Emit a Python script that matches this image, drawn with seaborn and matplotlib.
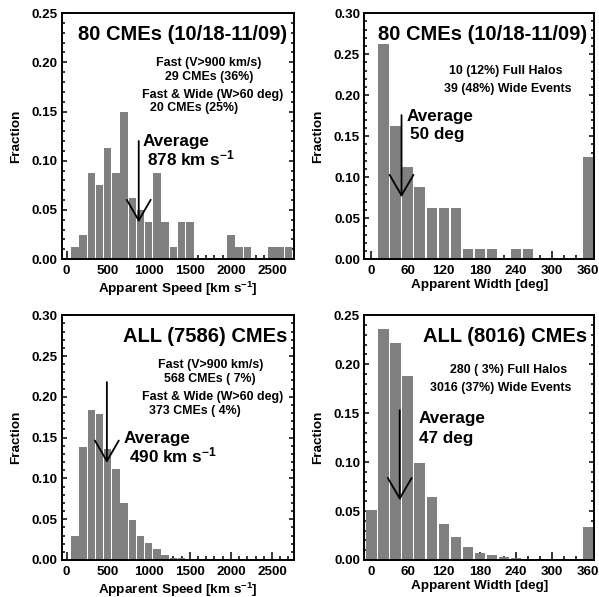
"""
CME speed and width distributions: Halloween 2003 events vs. all CMEs
"""
import matplotlib
matplotlib.use('Agg')
import matplotlib.pyplot as plt
from matplotlib.ticker import MultipleLocator
import pandas as pd
import seaborn as sns

# histogram bins (bin centres)
speed_bins = list(range(0, 2800, 100))
width_bins = list(range(0, 380, 20))

# fraction of events per bin
speed_frac_80 = [0, .0125, .025, .0875, .075, .1125, .0875, .15, .0625, .05,
                 .0375, .0875, .0375, .0125, .0375, .0375, 0, 0, 0, 0,
                 .025, .0125, .0125, 0, 0, .0125, .0125, .0125]
speed_frac_all = [0, .029, .139, .184, .1795, .1365, .1115, .0697, .049, .0295,
                  .0205, .013, .006, .003, .003, .001, .001, .0008, .0008, .0004,
                  .0003, .0002, .0001, .0001, 0, 0, 0, 0]
width_frac_80 = [0, .2625, .1625, .1125, .0875, .0625, .0625, .0625, .0125, .0125,
                 .0125, 0, .0125, .0125, 0, 0, 0, 0, .125]
width_frac_all = [.051, .236, .222, .188, .099, .064, .037, .023, .013, .0075,
                  .005, .003, .002, .0012, .001, 0, 0, 0, .034]

titles = ["80 CMEs (10/18-11/09)", "80 CMEs (10/18-11/09)",
          "ALL (7586) CMEs", "ALL (8016) CMEs"]
stats_text = [
    [("Fast (V>900 km/s)", .631, .799), ("29 CMEs (36%)", .633, .742),
     ("Fast & Wide (W>60 deg)", .651, .667), ("20 CMEs (25%)", .568, .613)],
    [("10 (12%) Full Halos", .616, .765), ("39 (48%) Wide Events", .626, .690)],
    [("Fast (V>900 km/s)", .640, .796), ("568 CMEs ( 7%)", .637, .739),
     ("Fast & Wide (W>60 deg)", .651, .664), ("373 CMEs ( 4%)", .574, .609)],
    [("280 ( 3%) Full Halos", .629, .778), ("3016 (37%) Wide Events", .594, .703)],
]
# average value, arrow tail / tip heights, label lines
averages = [878, 50, 490, 47]
arrow_tail = [.120, .1756, .218, .153]
arrow_tip = [.0375, .0755, .119, .061]
avg_labels = [
    [("Average", 925, .1153), ("878 km s$^{-1}$", 974, .0948)],
    [("Average", 58.3, .1687), ("50 deg", 63.8, .146)],
    [("Average", 698, .1434), ("490 km s$^{-1}$", 759, .1197)],
    [("Average", 78.8, .140), ("47 deg", 78.8, .1197)],
]

sns.set_style('ticks')
plt.rcParams['font.family'] = ['Liberation Sans', 'DejaVu Sans']
plt.rcParams['font.weight'] = 'bold'
plt.rcParams['axes.labelweight'] = 'bold'
plt.rcParams['mathtext.fontset'] = 'custom'
plt.rcParams['mathtext.rm'] = 'Liberation Sans:bold'
plt.rcParams['mathtext.it'] = 'Liberation Sans:bold'
plt.rcParams['mathtext.bf'] = 'Liberation Sans:bold'
plt.rcParams['mathtext.default'] = 'rm'
for key in ['text.color', 'axes.labelcolor', 'xtick.color', 'ytick.color',
            'axes.edgecolor']:
    plt.rcParams[key] = 'black'


def panel(ax, bins, frac, width, i, speed):
    df = pd.DataFrame({'bin': bins, 'frac': frac})
    sns.barplot(data=df, x='bin', y='frac', native_scale=True, orient='x',
                color='#808080', saturation=1, width=width, linewidth=0,
                errorbar=None, ax=ax)
    if speed:
        ax.set_xlim(-60, 2770)
        ax.xaxis.set_major_locator(MultipleLocator(500))
        ax.xaxis.set_minor_locator(MultipleLocator(100))
        ax.set_xlabel("Apparent Speed [km s$^{-1}$]", fontsize=9.7, labelpad=2)
    else:
        ax.set_xlim(-12, 370)
        ax.xaxis.set_major_locator(MultipleLocator(60))
        ax.xaxis.set_minor_locator(MultipleLocator(20))
        ax.set_xlabel("Apparent Width [deg]", fontsize=9.7, labelpad=2)
    ax.yaxis.set_major_locator(MultipleLocator(0.05))
    ax.yaxis.set_minor_locator(MultipleLocator(0.01))
    ax.yaxis.set_major_formatter(matplotlib.ticker.FormatStrFormatter('%.2f'))
    ax.set_ylabel("Fraction", fontsize=9.7, labelpad=7)
    ax.tick_params(axis='both', which='both', direction='in', top=False,
                   right=True, width=1.1, labelsize=9.6)
    ax.tick_params(axis='x', which='major', length=6, pad=4)
    ax.tick_params(axis='x', which='minor', length=3)
    ax.tick_params(axis='y', which='major', length=3.5, pad=3)
    ax.tick_params(axis='y', which='minor', length=2)
    for s in ax.spines.values():
        s.set_linewidth(1.4)
        s.set_visible(True)

    ax.text(0.971, 0.914, titles[i], transform=ax.transAxes, ha='right',
            va='center', fontsize=14.5)
    for txt, x, y in stats_text[i]:
        ax.text(x, y, txt, transform=ax.transAxes, ha='center', va='center',
                fontsize=8.9)
    ax.annotate('', xy=(averages[i], arrow_tip[i]),
                xytext=(averages[i], arrow_tail[i]),
                arrowprops=dict(arrowstyle='->,head_length=1.48,head_width=0.86',
                                lw=1.3, color='k', shrinkA=0, shrinkB=0,
                                mutation_scale=10))
    for txt, x, y in avg_labels[i]:
        ax.text(x, y, txt, ha='left', va='baseline', fontsize=12.3)


fig = plt.figure(figsize=(5.99, 5.97), dpi=100)
ax1 = fig.add_axes([0.103, 0.566, 0.388, 0.412])
ax2 = fig.add_axes([0.608, 0.566, 0.384, 0.412])
ax3 = fig.add_axes([0.103, 0.062, 0.388, 0.410])
ax4 = fig.add_axes([0.608, 0.062, 0.384, 0.410])

panel(ax1, speed_bins, speed_frac_80, 0.9, 0, True)
ax1.set_ylim(0, 0.25)
panel(ax2, width_bins, width_frac_80, 0.85, 1, False)
ax2.set_ylim(0, 0.30)
panel(ax3, speed_bins, speed_frac_all, 0.9, 2, True)
ax3.set_ylim(0, 0.30)
panel(ax4, width_bins, width_frac_all, 0.85, 3, False)
ax4.set_ylim(0, 0.25)

fig.savefig('out.png', dpi=100)
